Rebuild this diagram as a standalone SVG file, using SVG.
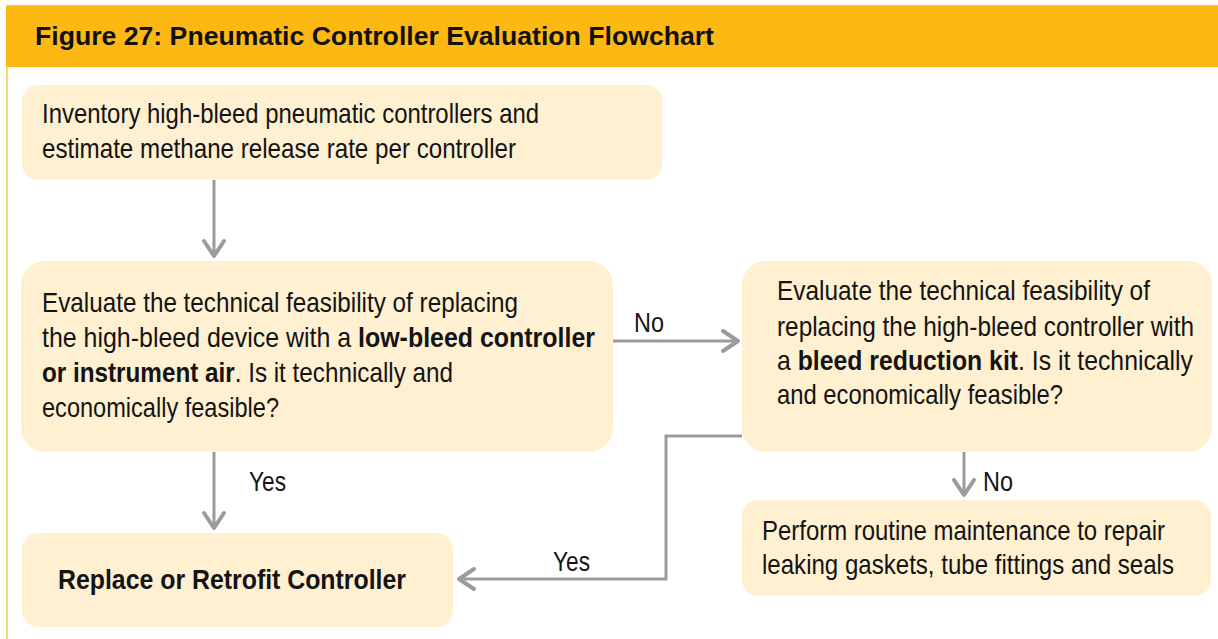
<svg xmlns="http://www.w3.org/2000/svg" width="1218" height="639" viewBox="0 0 1218 639">
<defs>
<style>
.box{fill:#FEF0D0;}
.t{font-family:"Liberation Sans Narrow","Liberation Sans",Arial,sans-serif;font-size:28px;fill:#141414;}
.b{font-weight:bold;}
.lbl{font-family:"Liberation Sans Narrow","Liberation Sans",Arial,sans-serif;font-size:28px;fill:#141414;}
.conn{fill:none;stroke:#9B9B9D;stroke-width:3;}
</style>
<marker id="ah" markerUnits="userSpaceOnUse" markerWidth="30" markerHeight="30" viewBox="-20 -15 24 30" refX="0" refY="0" orient="auto">
<path d="M-15,-10 L0,0 L-15,10" fill="none" stroke="#9B9B9D" stroke-width="4" stroke-linecap="round" stroke-linejoin="round"/>
</marker>
</defs>
<rect x="0" y="0" width="1218" height="639" fill="#ffffff"/>
<g id="header">
<rect x="6" y="5" width="1212" height="62" fill="#FDB913"/>
<line x1="6" y1="5" x2="1218" y2="5" stroke="#e6e6e6" stroke-width="1"/>
<line x1="7" y1="67" x2="7" y2="639" stroke="#FDC64A" stroke-width="1.5"/>
<text x="35" y="45" font-family="'Liberation Sans',Arial,sans-serif" font-weight="bold" font-size="25" fill="#111" textLength="679" lengthAdjust="spacingAndGlyphs">Figure 27: Pneumatic Controller Evaluation Flowchart</text>
</g>
<g id="connectors">
<line class="conn" x1="214" y1="180" x2="214" y2="256" marker-end="url(#ah)"/>
<line class="conn" x1="613" y1="341" x2="738" y2="341" marker-end="url(#ah)"/>
<line class="conn" x1="214" y1="452" x2="214" y2="528" marker-end="url(#ah)"/>
<line class="conn" x1="964" y1="452" x2="964" y2="495" marker-end="url(#ah)"/>
<polyline class="conn" points="742,436 666,436 666,579 459,579" marker-end="url(#ah)"/>
<text class="lbl" transform="matrix(0.75 0 0 1 634 332)" textLength="40" lengthAdjust="spacingAndGlyphs">No</text>
<text class="lbl" transform="matrix(0.75 0 0 1 249 491)" textLength="49.3" lengthAdjust="spacingAndGlyphs">Yes</text>
<text class="lbl" transform="matrix(0.75 0 0 1 983 491)" textLength="40" lengthAdjust="spacingAndGlyphs">No</text>
<text class="lbl" transform="matrix(0.75 0 0 1 553 571)" textLength="49.3" lengthAdjust="spacingAndGlyphs">Yes</text>
</g>
<g id="node-inventory">
<rect class="box" x="22" y="85" width="640" height="95" rx="16"/>
<text class="t" transform="matrix(0.75 0 0 1 42 123)" textLength="662.7" lengthAdjust="spacingAndGlyphs">Inventory high-bleed pneumatic controllers and</text>
<text class="t" transform="matrix(0.75 0 0 1 42 158)" textLength="632" lengthAdjust="spacingAndGlyphs">estimate methane release rate per controller</text>
</g>
<g id="node-evaluate-lowbleed">
<rect class="box" x="21" y="261" width="592" height="191" rx="24"/>
<text class="t" transform="matrix(0.75 0 0 1 42 312)" textLength="634.7" lengthAdjust="spacingAndGlyphs">Evaluate the technical feasibility of replacing</text>
<text class="t" transform="matrix(0.75 0 0 1 42 347)" textLength="737.3" lengthAdjust="spacingAndGlyphs">the high-bleed device with a <tspan class="b">low-bleed controller</tspan></text>
<text class="t" transform="matrix(0.75 0 0 1 42 382)" textLength="548" lengthAdjust="spacingAndGlyphs"><tspan class="b">or instrument air</tspan>. Is it technically and</text>
<text class="t" transform="matrix(0.75 0 0 1 42 417)" textLength="316" lengthAdjust="spacingAndGlyphs">economically feasible?</text>
</g>
<g id="node-evaluate-kit">
<rect class="box" x="742" y="261" width="470" height="191" rx="24"/>
<text class="t" transform="matrix(0.75 0 0 1 777 300)" textLength="497.3" lengthAdjust="spacingAndGlyphs">Evaluate the technical feasibility of</text>
<text class="t" transform="matrix(0.75 0 0 1 777 336)" textLength="556" lengthAdjust="spacingAndGlyphs">replacing the high-bleed controller with</text>
<text class="t" transform="matrix(0.75 0 0 1 777 370)" textLength="554.7" lengthAdjust="spacingAndGlyphs">a <tspan class="b">bleed reduction kit</tspan>. Is it technically</text>
<text class="t" transform="matrix(0.75 0 0 1 777 404)" textLength="381.3" lengthAdjust="spacingAndGlyphs">and economically feasible?</text>
</g>
<g id="node-maintenance">
<rect class="box" x="742" y="500" width="469" height="96" rx="16"/>
<text class="t" transform="matrix(0.75 0 0 1 762 540)" textLength="537.3" lengthAdjust="spacingAndGlyphs">Perform routine maintenance to repair</text>
<text class="t" transform="matrix(0.75 0 0 1 762 574)" textLength="549.3" lengthAdjust="spacingAndGlyphs">leaking gaskets, tube fittings and seals</text>
</g>
<g id="node-replace">
<rect class="box" x="22" y="533" width="431" height="94" rx="16"/>
<text class="t b" transform="matrix(0.75 0 0 1 58 589)" textLength="464" lengthAdjust="spacingAndGlyphs">Replace or Retrofit Controller</text>
</g>
</svg>
